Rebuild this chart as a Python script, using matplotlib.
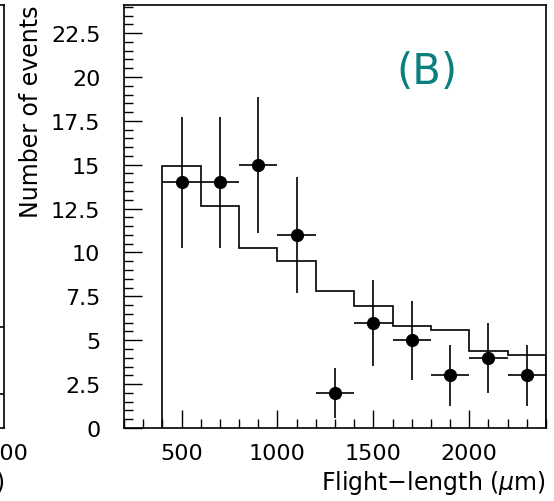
import matplotlib
matplotlib.use("Agg")
import matplotlib.pyplot as plt
from matplotlib.ticker import MultipleLocator, FuncFormatter

plt.rcParams['font.family'] = ['DejaVu Sans']
plt.rcParams['mathtext.fontset'] = 'dejavusans'

# ---- data (panel B) ----
bin_edges = [400, 600, 800, 1000, 1200, 1400, 1600, 1800, 2000, 2200, 2400]
mc_values = [14.93, 12.64, 10.26, 9.50, 7.81, 6.95, 5.83, 5.56, 4.37, 4.14]
data_x = [500, 700, 900, 1100, 1300, 1500, 1700, 1900, 2100, 2300]
data_y = [14, 14, 15, 11, 2, 6, 5, 3, 4, 3]
data_err = [3.74, 3.74, 3.87, 3.32, 1.41, 2.45, 2.24, 1.73, 2.0, 1.73]
x_halfwidth = [100] * 10
y_ticks = [0, 2.5, 5, 7.5, 10, 12.5, 15, 17.5, 20, 22.5]
x_ticks = [500, 1000, 1500, 2000]

# ---- neighbouring panel (A), only its right edge is visible ----
a_levels = [5.74, 1.91]
a_tick = 2500
a_xmax = 2525

W, H = 554, 502
fig = plt.figure(figsize=(W / 100, H / 100), dpi=100)

def fx(px):
    return px / W

def fy(py):
    return 1 - py / H

ax_l, ax_r, ax_t, ax_b = 124, 546, 6, 429
axw = fx(ax_r) - fx(ax_l)
axh = fy(ax_t) - fy(ax_b)
ax = fig.add_axes([fx(ax_l), fy(ax_b), axw, axh])

# left remnant panel
axA = fig.add_axes([fx(4) - axw, fy(ax_b), axw, axh])
axA.set_xlim(0, a_xmax)
axA.set_ylim(0, 24.1)
for lv in a_levels:
    axA.hlines(lv, a_xmax - 200, a_xmax, color='black', lw=1.2)
axA.set_xticks([a_tick])
axA.set_xticklabels([str(a_tick)])
axA.set_yticks([])
axA.tick_params(axis='x', length=0, labelsize=16, pad=11)
for s in axA.spines.values():
    s.set_linewidth(1.2)
fig.text(fx(5), fy(483), 'Flight\u2212length ($\\mu$m)', ha='right', va='center', fontsize=17)

# main panel B
ax.stairs(mc_values, bin_edges, baseline=0, color='black', lw=1.2)
ax.errorbar(data_x, data_y, xerr=x_halfwidth, yerr=data_err, fmt='o', color='black',
            ms=8.5, elinewidth=1.2, capsize=0)

ax.set_xlim(200, 2400)
ax.set_ylim(0, 24.1)
ax.set_xticks(x_ticks)
ax.set_yticks(y_ticks)
ax.xaxis.set_minor_locator(MultipleLocator(100))
ax.yaxis.set_minor_locator(MultipleLocator(0.5))
ax.yaxis.set_major_formatter(FuncFormatter(lambda v, p: '%g' % v))
ax.tick_params(which='both', direction='in', top=False, right=False, width=1.0)
ax.tick_params(which='major', length=13, labelsize=16)
ax.tick_params(axis='y', which='major', pad=17)
ax.tick_params(axis='x', which='major', pad=11)
ax.tick_params(which='minor', length=6.5)
for s in ax.spines.values():
    s.set_linewidth(1.2)

fig.text(fx(546), fy(483), 'Flight\u2212length ($\\mu$m)', ha='right', va='center', fontsize=17)
fig.text(fx(31), fy(5), 'Number of events', rotation=90, ha='center', va='top', fontsize=17)
ax.text((fx(427) - fx(ax_l)) / axw, 1 - (72 - ax_t) / (ax_b - ax_t), '(B)', transform=ax.transAxes,
        ha='center', va='center', fontsize=30, color='#0a7f7f')

fig.savefig('out.png', dpi=100)
